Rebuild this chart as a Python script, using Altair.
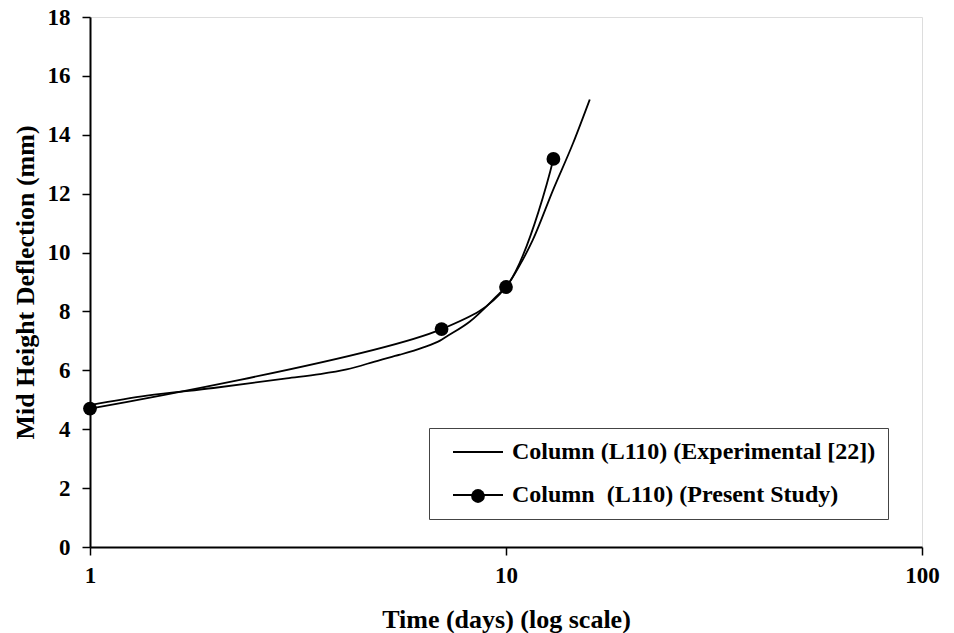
import altair as alt
import pandas as pd

EXP = "Column (L110) (Experimental [22])"
PRE = "Column\u00a0 (L110) (Present Study)"

exp_x = [1, 1.37, 1.98, 2.97, 3.57, 4.14, 4.98, 5.56, 6.33, 6.94, 7.2, 8.19, 9.67, 10.0, 10.8, 11.6, 12.98, 14.5, 15.9]
exp_y = [4.82, 5.14, 5.40, 5.73, 5.87, 6.03, 6.35, 6.53, 6.78, 7.01, 7.15, 7.66, 8.63, 8.83, 9.58, 10.43, 12.13, 13.72, 15.2]

pre_x = [1, 7, 10, 13]
pre_y = [4.7, 7.4, 8.83, 13.18]

x_ticks = [1, 10, 100]
y_ticks = [0, 2, 4, 6, 8, 10, 12, 14, 16, 18]

exp_df = pd.DataFrame({"x": exp_x, "y": exp_y, "series": [EXP] * len(exp_x)})
pre_df = pd.DataFrame({"x": pre_x, "y": pre_y, "series": [PRE] * len(pre_x)})

FONT = "Liberation Serif"

x_enc = alt.X(
    "x:Q",
    scale=alt.Scale(type="log", domain=[1, 100]),
    axis=alt.Axis(
        values=x_ticks, format="d", title="Time (days) (log scale)",
        grid=False, tickSize=8, tickWidth=1.5, tickColor="black",
        domainColor="black", domainWidth=2,
        labelFont=FONT, labelFontSize=23, labelFontWeight="bold", labelColor="black",
        labelPadding=9, labelFlush=False,
        titleFont=FONT, titleFontSize=26, titleFontWeight="bold", titleColor="black",
        titleY=80, titleBaseline="alphabetic",
    ),
)
y_enc = alt.Y(
    "y:Q",
    scale=alt.Scale(domain=[0, 18]),
    axis=alt.Axis(
        values=y_ticks, title="Mid Height Deflection (mm)",
        grid=False, tickSize=8, tickWidth=1.5, tickColor="black",
        domainColor="black", domainWidth=2,
        labelFont=FONT, labelFontSize=23, labelFontWeight="bold", labelColor="black",
        labelPadding=12,
        titleFont=FONT, titleFontSize=26, titleFontWeight="bold", titleColor="black",
        titleX=-65, titleY=265, titleBaseline="middle",
    ),
)

stroke_enc = alt.Stroke(
    "series:N",
    scale=alt.Scale(domain=[EXP, PRE], range=["black", "black"]),
    legend=alt.Legend(
        title=None, orient="none", legendX=339, legendY=411, direction="vertical",
        symbolType="M0,0H5", symbolSize=400, symbolStrokeWidth=1.8,
        labelFont=FONT, labelFontSize=24, labelFontWeight="bold", labelColor="black",
        labelOffset=47, labelLimit=1000, padding=12, rowPadding=19,
        strokeColor="#444444",
    ),
)

exp_line = alt.Chart(exp_df).mark_line(interpolate="monotone", strokeWidth=1.8).encode(
    x=x_enc, y=y_enc, stroke=stroke_enc,
)

pre_line = alt.Chart(pre_df).mark_line(interpolate="catmull-rom", strokeWidth=1.8).encode(
    x="x:Q", y="y:Q", stroke=stroke_enc,
)

points = alt.Chart(pre_df).mark_point(filled=True, size=190, opacity=1).encode(
    x="x:Q",
    y="y:Q",
    fill=alt.Fill(
        "series:N",
        scale=alt.Scale(domain=[PRE], range=["black"]),
        legend=alt.Legend(
            title=None, orient="none", legendX=380, legendY=471,
            symbolType="circle", symbolSize=190, symbolOpacity=1,
            labelExpr="''", labelFontSize=1, padding=0,
        ),
    ),
)

chart = alt.layer(exp_line, pre_line, points).properties(
    width=832, height=530,
    padding={"left": 90, "top": 17, "right": 32, "bottom": 86},
    autosize=alt.AutoSizeParams(type="none"),
).configure_view(stroke="black", strokeWidth=2).configure(background="white")

chart.save("out.html", embed_options={"renderer": "svg", "actions": False})
